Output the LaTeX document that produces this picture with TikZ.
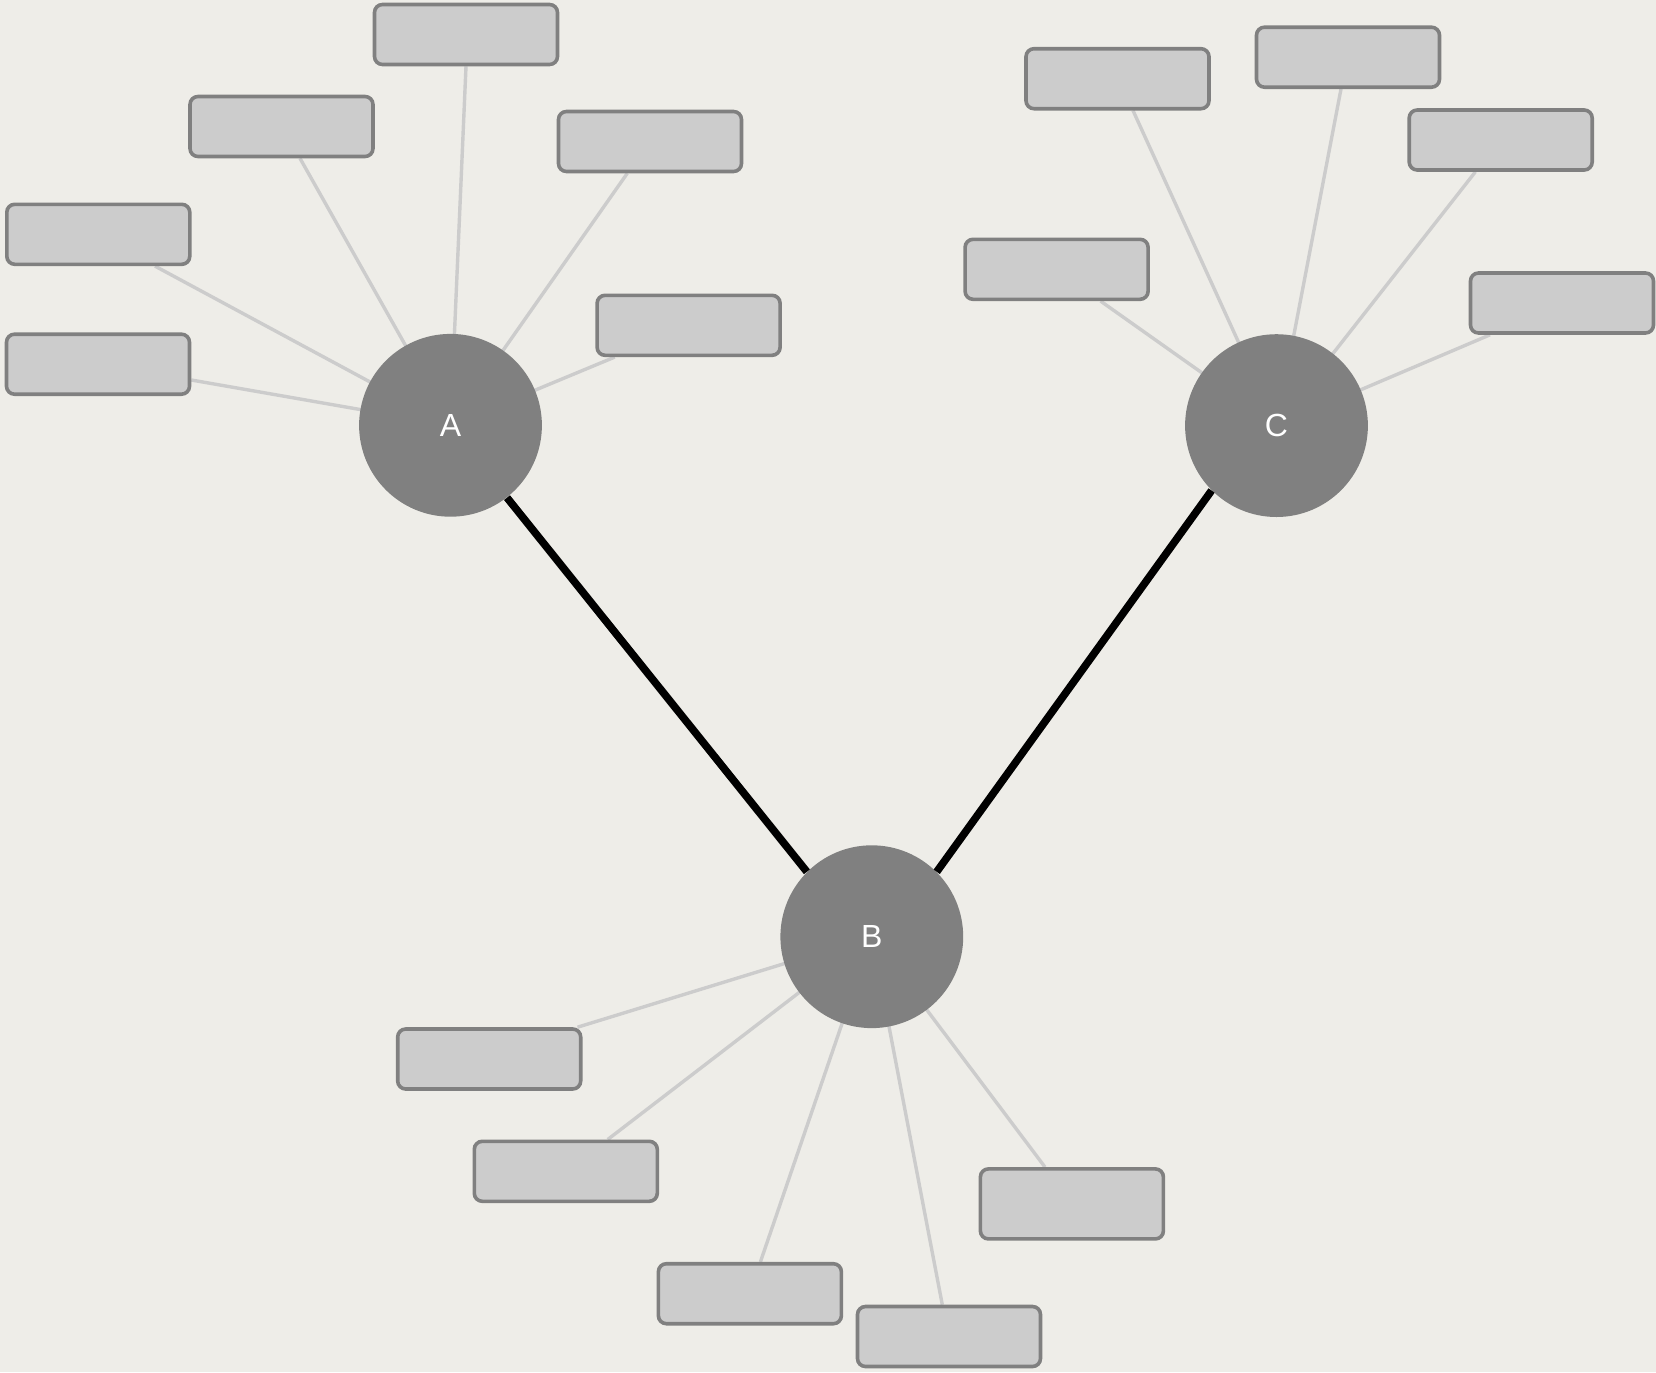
\documentclass[tikz,border=0pt]{standalone}
\usepackage{fontspec}
\setmainfont{Liberation Sans}
\usetikzlibrary{calc}
\pgfdeclarelayer{bg}
\pgfsetlayers{bg,main}
\definecolor{paper}{HTML}{EEEDE8}
\definecolor{hub}{HTML}{808080}
\definecolor{leaf}{HTML}{CCCCCC}
\tikzset{
  hubnode/.style={circle, fill=hub, minimum size=91.4pt, inner sep=0pt,
    text=white, font=\fontsize{16}{18}\selectfont},
  leafbox/.style={rectangle, rounded corners=4pt, draw=hub, fill=leaf,
    line width=1.8pt, minimum width=91.5pt, minimum height=30pt, inner sep=0pt},
  tallbox/.style={leafbox, minimum height=35pt},
  spoke/.style={draw=leaf, line width=1.7pt},
  trunk/.style={draw=black, line width=3.8pt},
}
\begin{document}
\begin{tikzpicture}[x=0.5pt, y=-0.5pt]
  \begin{pgfonlayer}{bg}
    \fill[paper] (0,0) rectangle (1656,1372);
  \end{pgfonlayer}
  \useasboundingbox (0,0) rectangle (1656,1372);

  % hubs
  \node[hubnode] (A) at (450.5,425.3) {A};
  \node[hubnode] (C) at (1276.5,425.6) {C};
  \node[hubnode] (B) at (871.8,936.7) {B};

  % boxes around A
  \node[leafbox] (a1) at (466,34.5) {};
  \node[leafbox] (a2) at (281.5,126.5) {};
  \node[leafbox] (a3) at (650,141.5) {};
  \node[leafbox] (a4) at (98.3,234.3) {};
  \node[leafbox] (a5) at (98,364.2) {};
  \node[leafbox] (a6) at (688.6,325.3) {};

  % boxes around C
  \node[leafbox] (c1) at (1117.5,78.7) {};
  \node[leafbox] (c2) at (1348,57.2) {};
  \node[leafbox] (c3) at (1500.7,140) {};
  \node[leafbox] (c4) at (1056.6,269.3) {};
  \node[leafbox] (c5) at (1562,303) {};

  % boxes around B
  \node[leafbox] (b1) at (489.2,1059) {};
  \node[leafbox] (b2) at (565.8,1171.3) {};
  \node[leafbox] (b3) at (749.9,1293.7) {};
  \node[leafbox] (b4) at (949,1336.5) {};
  \node[tallbox] (b5) at (1071.9,1203.9) {};

  \begin{pgfonlayer}{bg}
    % spokes from each hub to its boxes
    \draw[spoke] (A.center) -- (a1.south);
    \draw[spoke] (A.center) -- ($(a2.south)+(18.5,0)$);
    \draw[spoke] (A.center) -- ($(a3.south)+(-22.7,0)$);
    \draw[spoke] (A.center) -- ($(a4.south)+(56.7,0)$);
    \draw[spoke] (A.center) -- ($(a5.east)+(0,15.8)$);
    \draw[spoke] (A.center) -- ($(a6.south)+(-73.9,0)$);

    \draw[spoke] (C.center) -- ($(c1.south)+(15.5,0)$);
    \draw[spoke] (C.center) -- ($(c2.south)+(-7,0)$);
    \draw[spoke] (C.center) -- ($(c3.south)+(-25.3,0)$);
    \draw[spoke] (C.center) -- ($(c4.south)+(44,0)$);
    \draw[spoke] (C.center) -- ($(c5.south)+(-72,0)$);

    \draw[spoke] (B.center) -- ($(b1.north east)+(-5,0)$);
    \draw[spoke] (B.center) -- ($(b2.north)+(41.9,0)$);
    \draw[spoke] (B.center) -- ($(b3.north)+(10.5,0)$);
    \draw[spoke] (B.center) -- ($(b4.north)+(-6.7,0)$);
    \draw[spoke] (B.center) -- ($(b5.north)+(-26.9,0)$);
  \end{pgfonlayer}

  % trunk links between hubs, rim to rim
  \draw[trunk] (A.-52) -- (B.north west);
  \draw[trunk] (C.south west) -- (B.north east);
\end{tikzpicture}
\end{document}
